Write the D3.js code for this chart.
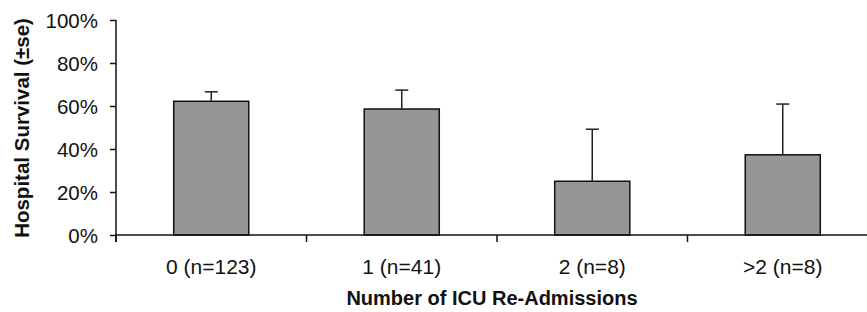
<!DOCTYPE html>
<meta charset="utf-8">
<style>
  body { margin: 0; background: #fff; }
  text { font-family: "Liberation Sans", Arial, sans-serif; fill: #111; }
</style>
<body>
<svg width="867" height="312"></svg>
<script src="https://cdnjs.cloudflare.com/ajax/libs/d3/7.8.5/d3.min.js"></script>
<script>
// data
var categories = ["0 (n=123)", "1 (n=41)", "2 (n=8)", ">2 (n=8)"];
var survival = [62.2, 58.6, 25.0, 37.3];
var seUpper = [4.4, 8.8, 24.2, 23.6];
var yTicks = [0, 20, 40, 60, 80, 100];

var svg = d3.select("svg");

var x = d3.scaleBand()
  .domain(categories)
  .range([116, 878])
  .paddingInner(0.606)
  .paddingOuter(0.303);

var y = d3.scaleLinear().domain([0, 100]).range([235, 20]);

// bars
svg.selectAll("rect.bar")
  .data(categories)
  .enter().append("rect")
  .attr("class", "bar")
  .attr("x", function(d) { return x(d); })
  .attr("width", x.bandwidth())
  .attr("y", function(d, i) { return y(survival[i]); })
  .attr("height", function(d, i) { return y(0) - y(survival[i]); })
  .attr("fill", "#969696")
  .attr("stroke", "#111")
  .attr("stroke-width", 1.5);

// error bars (upper only)
var err = svg.append("g").attr("stroke", "#222").attr("stroke-width", 1.5);
categories.forEach(function(d, i) {
  var cx = x(d) + x.bandwidth() / 2;
  var top = y(survival[i] + seUpper[i]);
  err.append("line")
    .attr("x1", cx).attr("x2", cx)
    .attr("y1", y(survival[i])).attr("y2", top);
  err.append("line")
    .attr("x1", cx - 6.5).attr("x2", cx + 6.5)
    .attr("y1", top).attr("y2", top);
});

// y axis
var yAxis = svg.append("g")
  .attr("transform", "translate(116,0)")
  .call(d3.axisLeft(y).tickValues(yTicks).tickSize(6).tickSizeOuter(0)
    .tickFormat(function(d) { return d + "%"; }));
yAxis.select(".domain").attr("stroke", "#111").attr("stroke-width", 1.5)
  .attr("d", "M0," + y(100) + "V" + (y(0) + 7));
yAxis.selectAll(".tick line").attr("stroke", "#111").attr("stroke-width", 1.5);
yAxis.selectAll(".tick text")
  .attr("x", -18)
  .attr("dy", "0.36em")
  .style("font-size", "20.5px")
  .style("font-family", "'Liberation Sans', Arial, sans-serif")
  .attr("fill", "#111");

// x axis with ticks at category boundaries
var bounds = categories.map(function(d) { return x(d) + x.bandwidth() / 2 - x.step() / 2; });
bounds.push(x.range()[1]);
var xAxis = svg.append("g");
xAxis.append("line")
  .attr("x1", 116).attr("x2", 878)
  .attr("y1", y(0)).attr("y2", y(0))
  .attr("stroke", "#111").attr("stroke-width", 1.5);
xAxis.selectAll("line.tk")
  .data(bounds)
  .enter().append("line")
  .attr("class", "tk")
  .attr("x1", function(d) { return d; }).attr("x2", function(d) { return d; })
  .attr("y1", y(0)).attr("y2", y(0) + 7)
  .attr("stroke", "#111").attr("stroke-width", 1.5);
xAxis.selectAll("text.cat")
  .data(categories)
  .enter().append("text")
  .attr("class", "cat")
  .attr("x", function(d) { return x(d) + x.bandwidth() / 2; })
  .attr("y", 274)
  .attr("text-anchor", "middle")
  .style("font-size", "21px")
  .text(function(d) { return d; });

// axis titles
svg.append("text")
  .attr("x", 492).attr("y", 305)
  .attr("text-anchor", "middle")
  .style("font-size", "20px")
  .style("font-weight", "bold")
  .text("Number of ICU Re-Admissions");

svg.append("text")
  .attr("transform", "translate(29,128) rotate(-90)")
  .attr("text-anchor", "middle")
  .style("font-size", "20.5px")
  .style("font-weight", "bold")
  .text("Hospital Survival (\u00b1se)");
</script>
</body>
